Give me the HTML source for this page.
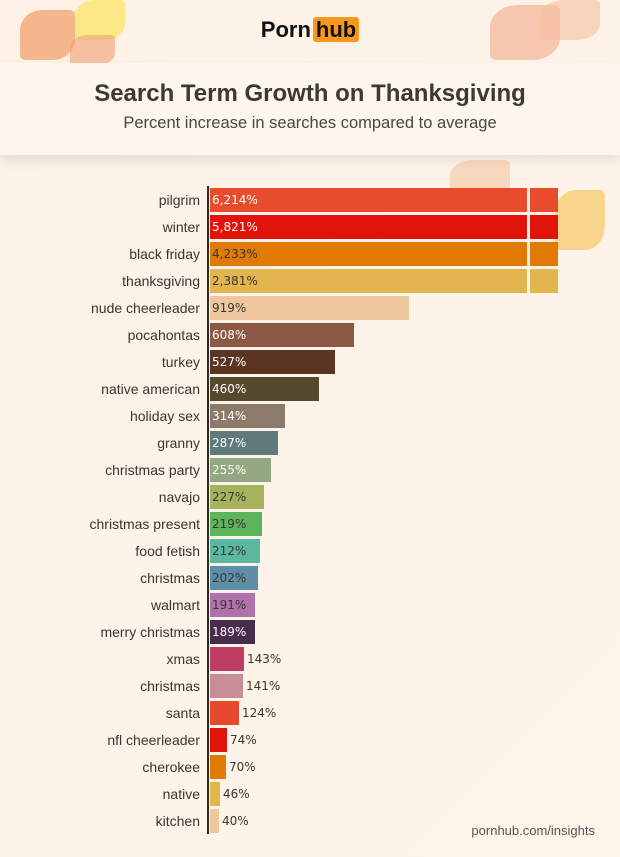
<!DOCTYPE html>
<html><head><style>
body{margin:0;width:620px;height:857px;overflow:hidden;background:linear-gradient(135deg,#fdf1e6,#fdf5ea);font-family:"Liberation Sans",sans-serif;position:relative}
.leaf{position:absolute;border-radius:40% 10% 40% 10%;opacity:.6}
.logo{position:absolute;top:17px;left:0;width:620px;text-align:center;font-weight:bold;font-size:22px;color:#111}
.logo span{background:#f7971d;border-radius:3px;padding:0 3px;margin-left:2px}
.band{position:absolute;top:63px;left:0;width:620px;height:92px;background:rgba(253,246,238,.95);box-shadow:0 6px 10px rgba(0,0,0,.08);text-align:center}
.band h1{margin:17px 0 0;font-size:24px;color:#3c3a30}
.band p{margin:6px 0 0;font-size:16.5px;color:#4a4640}
.axis{position:absolute;left:207px;top:186px;width:2px;height:648px;background:#2d2a26}
.row{position:absolute;left:0;height:24px}
.lab{position:absolute;right:421px;width:200px;text-align:right;font-size:14px;color:#3a3530;line-height:24px}
.bar{position:absolute;left:210px;height:24px}
.val{position:absolute;font-size:12px;line-height:24px;font-family:"DejaVu Sans",sans-serif}
.foot{position:absolute;right:25px;top:823px;font-size:13px;color:#555}
</style></head><body>
<div class="leaf" style="left:20px;top:10px;width:55px;height:50px;background:#f2904f"></div>
<div class="leaf" style="left:75px;top:0px;width:50px;height:40px;background:#fde24a"></div>
<div class="leaf" style="left:70px;top:35px;width:45px;height:30px;background:#f0a070"></div>
<div class="leaf" style="left:490px;top:5px;width:70px;height:55px;background:#f2a888"></div>
<div class="leaf" style="left:540px;top:0px;width:60px;height:40px;background:#f7c0a0"></div>
<div class="leaf" style="left:450px;top:160px;width:60px;height:40px;background:#f5c6a0"></div>
<div class="leaf" style="left:555px;top:190px;width:50px;height:60px;background:#f7c050"></div>
<div class="logo">Porn<span>hub</span></div>
<div class="band"><h1>Search Term Growth on Thanksgiving</h1><p>Percent increase in searches compared to average</p></div>
<div class="axis"></div>
<div id="c"></div>
<div class="foot">pornhub.com/insights</div>
<script>
var d=[["pilgrim","6,214%",558,"#e84c2c",1],["winter","5,821%",558,"#e2130a",1],["black friday","4,233%",558,"#e07a05",0],["thanksgiving","2,381%",558,"#e3b54e",0],["nude cheerleader","919%",409,"#eec79e",0],["pocahontas","608%",354,"#8b5944",1],["turkey","527%",335,"#5c3424",1],["native american","460%",319,"#564a2e",1],["holiday sex","314%",285,"#8c7b6b",1],["granny","287%",278,"#5f7a7a",1],["christmas party","255%",271,"#93a882",1],["navajo","227%",264,"#a5b35c",0],["christmas present","219%",262,"#5cb55a",0],["food fetish","212%",260,"#5ab8a0",0],["christmas","202%",258,"#5f8fa8",0],["walmart","191%",255,"#b171ab",0],["merry christmas","189%",255,"#482c4c",1],["xmas","143%",244,"#be3d63",2],["christmas","141%",243,"#c98c99",2],["santa","124%",239,"#e64a2c",2],["nfl cheerleader","74%",227,"#e2130a",2],["cherokee","70%",226,"#e07a05",2],["native","46%",220,"#e3b54e",2],["kitchen","40%",219,"#eec79e",2]];
var h="";d.forEach(function(r,i){var y=188+i*27;
h+='<div class="lab" style="top:'+y+'px;left:0">'+r[0]+'</div>';
h+='<div class="bar" style="top:'+y+'px;width:'+(r[2]-210)+'px;background:'+r[3]+'"></div>';
if(r[2]==558)h+='<div style="position:absolute;left:527px;top:'+y+'px;width:3px;height:24px;background:#fdf3e8"></div>';
var x=r[4]==2?r[2]+3:212,c=r[4]==1?"#fff":"#3a3530";
h+='<div class="val" style="top:'+y+'px;left:'+x+'px;color:'+c+'">'+r[1]+'</div>';});
document.getElementById("c").innerHTML=h;
</script>
</body></html>
